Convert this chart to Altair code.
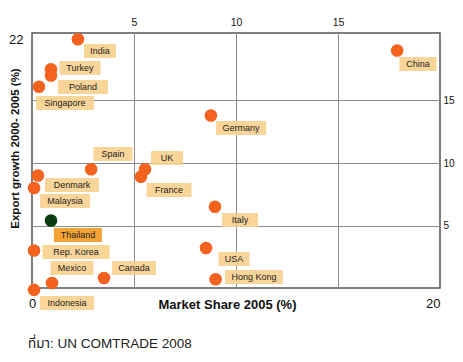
import altair as alt
import pandas as pd

# ---- data ----
countries = ["India", "Turkey", "Poland", "Singapore", "Germany", "China", "Spain", "UK",
             "France", "Denmark", "Malaysia", "Thailand", "Italy", "Rep. Korea", "USA",
             "Mexico", "Canada", "Hong Kong", "Indonesia"]
market_share = [2.25, 0.93, 0.93, 0.34, 8.77, 17.9, 2.9, 5.54,
                5.34, 0.29, 0.1, 0.93, 8.97, 0.1, 8.53,
                0.98, 3.53, 9.0, 0.1]
export_growth = [19.9, 17.5, 17.0, 16.1, 13.8, 19.0, 9.5, 9.5,
                 8.9, 9.0, 8.0, 5.4, 6.5, 3.0, 3.2,
                 0.4, 0.8, 0.7, -0.15]
# label box anchors (data units) and box widths (px)
label_x = [3.33, 2.35, 2.5, 1.62, 10.25, 18.92, 3.97, 6.62,
           6.72, 1.96, 1.62, 2.25, 10.2, 2.16, 9.9,
           1.96, 5.0, 10.88, 1.72]
label_y = [18.96, 17.6, 16.08, 14.8, 12.8, 17.92, 10.72, 10.4,
           7.84, 8.24, 6.96, 4.24, 5.44, 2.88, 2.32,
           1.6, 1.6, 0.88, -1.2]
box_w = [32, 41, 50, 58, 50, 37, 39, 32,
         45, 54, 50, 48, 36, 67, 31,
         43, 44, 58, 54]
highlight = "Thailand"
source_text = "ที่มา: UN COMTRADE 2008"

W, H = 408, 255
XMAX, YMAX = 20, 20.4
BOX_H = 14

df = pd.DataFrame({"country": countries, "x": market_share, "y": export_growth,
                   "lx": label_x, "ly": label_y, "bw": box_w})
df["kind"] = ["hl" if c == highlight else "n" for c in df["country"]]
df["bx1"] = df["lx"] - df["bw"] / 2 * XMAX / W
df["bx2"] = df["lx"] + df["bw"] / 2 * XMAX / W
df["by1"] = df["ly"] - BOX_H / 2 * YMAX / H
df["by2"] = df["ly"] + BOX_H / 2 * YMAX / H

FONT = "Liberation Sans"
xs = alt.Scale(domain=[0, XMAX], nice=False, zero=False)
ys = alt.Scale(domain=[0, YMAX], nice=False, zero=False)

base = alt.Chart(df)

boxes = base.mark_rect(opacity=0.9).encode(
    x=alt.X("bx1:Q", scale=xs, axis=alt.Axis(
        orient="top", values=[5, 10, 15], grid=True, gridColor="#8c8c8c", gridWidth=1,
        ticks=False, domain=False, labelFontSize=10.5, labelPadding=6, labelFont=FONT,
        labelColor="#111", title=None)),
    x2="bx2:Q",
    y=alt.Y("by1:Q", scale=ys, axis=alt.Axis(
        orient="right", values=[5, 10, 15], grid=True, gridColor="#8c8c8c", gridWidth=1,
        ticks=False, domain=False, labelFontSize=10, labelPadding=3, labelFont=FONT,
        labelColor="#111", title=None)),
    y2="by2:Q",
    color=alt.Color("kind:N", scale=alt.Scale(domain=["hl", "n"], range=["#F39A1E", "#FAD08E"]),
                    legend=None),
)

points = base.mark_circle(size=160, opacity=1).encode(
    x=alt.X("x:Q", scale=xs, axis=alt.Axis(
        orient="bottom", values=[0, 20], grid=False, ticks=False, domain=False,
        labelFontSize=13, labelPadding=9, labelFont=FONT, labelColor="#111",
        labelAlign={"condition": {"test": "datum.value == 20", "value": "right"}, "value": "center"},
        title="Market Share 2005 (%)", titleFont=FONT, titleFontSize=13, titleFontWeight="bold",
        titleColor="#111", titleX=195, titleY=16, titleBaseline="middle", titleAlign="center")),
    y=alt.Y("y:Q", scale=ys, axis=alt.Axis(
        orient="left", values=[YMAX], labelExpr="'22'", grid=False, ticks=False, domain=False,
        labelFontSize=13, labelPadding=9, labelFont=FONT, labelColor="#111", labelBaseline="top",
        title="Export growth 2000- 2005 (%)", titleFont=FONT, titleFontSize=11.5,
        titleFontWeight="bold", titleColor="#111", titleX=-17, titleY=115,
        titleBaseline="middle", titleAlign="center")),
    color=alt.Color("kind:N", scale=alt.Scale(domain=["hl", "n"], range=["#0B3D12", "#F4621F"]),
                    legend=None),
)

labels = base.mark_text(fontSize=9, font=FONT, color="#222", baseline="middle", align="center").encode(
    x=alt.X("lx:Q", scale=xs, axis=None),
    y=alt.Y("ly:Q", scale=ys, axis=None),
    text="country:N",
)

source = alt.Chart(pd.DataFrame({"t": [source_text]})).mark_text(
    fontSize=13.5, font="Liberation Sans, Noto Sans Thai, sans-serif", color="#222",
    align="left", baseline="alphabetic").encode(
    x=alt.value(-4), y=alt.value(H + 60), text="t:N")

chart = alt.layer(boxes, points, labels, source).resolve_scale(
    color="independent").resolve_axis(x="independent", y="independent").properties(
    width=W, height=H,
    autosize=alt.AutoSizeParams(type="none"),
    padding={"left": 24, "top": 25, "right": 15, "bottom": 66},
).configure_view(stroke="#555", strokeWidth=1.5)

chart.save("out.html", embed_options={"renderer": "svg", "actions": False})
